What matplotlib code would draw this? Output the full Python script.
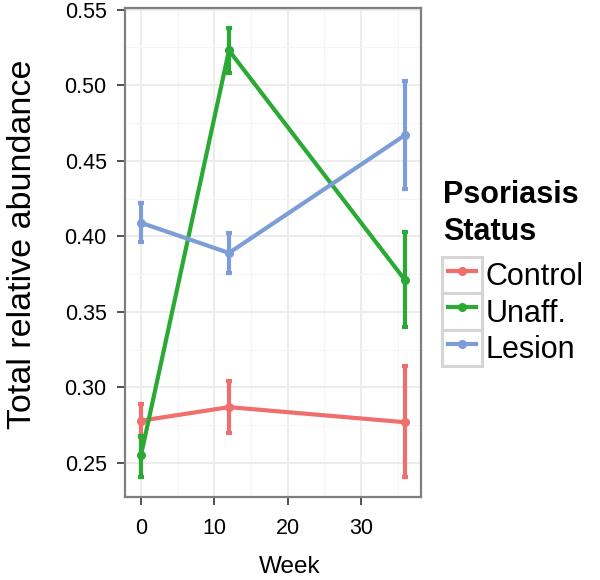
import matplotlib
matplotlib.use("Agg")
import matplotlib.pyplot as plt
from matplotlib.legend_handler import HandlerLine2D
from matplotlib.patches import Rectangle
from matplotlib.ticker import MultipleLocator, FormatStrFormatter

plt.rcParams['font.family'] = ['Liberation Sans', 'DejaVu Sans']

week = [0, 12, 36]
groups = ['Control', 'Unaff.', 'Lesion']
colors = ['#EE6F6B', '#2BA935', '#7C9DD6']
means = {
    'Control': [0.278, 0.287, 0.277],
    'Unaff.': [0.255, 0.523, 0.371],
    'Lesion': [0.409, 0.389, 0.467],
}
lower = {
    'Control': [0.267, 0.270, 0.241],
    'Unaff.': [0.241, 0.508, 0.340],
    'Lesion': [0.396, 0.376, 0.431],
}
upper = {
    'Control': [0.289, 0.304, 0.314],
    'Unaff.': [0.268, 0.538, 0.403],
    'Lesion': [0.422, 0.402, 0.503],
}


class BoxedHandler(HandlerLine2D):
    # ggplot-style legend key: grey framed box behind a slightly inset line
    def create_artists(self, legend, orig_handle, xdescent, ydescent,
                       width, height, fontsize, trans):
        inset = 4
        arts = super().create_artists(legend, orig_handle, xdescent - inset,
                                      ydescent, width - 2 * inset, height,
                                      fontsize, trans)
        box = Rectangle((-xdescent, -ydescent), width, height,
                        facecolor='white', edgecolor='#D6D6D6', lw=2.2,
                        transform=trans)
        return [box] + list(arts)


fig = plt.figure(figsize=(6, 5.8), dpi=100)
ax = fig.add_axes([0.208, 0.143, 0.494, 0.843])

handles = []
for g, c in zip(groups, colors):
    m = means[g]
    yerr = [[mm - lo for mm, lo in zip(m, lower[g])],
            [hi - mm for mm, hi in zip(m, upper[g])]]
    ax.errorbar(week, m, yerr=yerr, fmt='none', ecolor=c, elinewidth=3,
                capsize=2.5, capthick=3, zorder=3)
    ln, = ax.plot(week, m, '-o', color=c, lw=3, ms=5.5, zorder=4, label=g)
    handles.append(ln)

ax.set_xlim(-2.2, 38.2)
ax.set_ylim(0.2275, 0.551)
ax.xaxis.set_major_locator(MultipleLocator(10))
ax.xaxis.set_minor_locator(MultipleLocator(5))
ax.yaxis.set_major_locator(MultipleLocator(0.05))
ax.yaxis.set_minor_locator(MultipleLocator(0.025))
ax.yaxis.set_major_formatter(FormatStrFormatter('%.2f'))

ax.grid(which='major', color='#EBEBEB', lw=1.3)
ax.grid(which='minor', color='#F5F5F5', lw=0.8)
ax.set_axisbelow(True)
for s in ax.spines.values():
    s.set_color('#7F7F7F')
    s.set_linewidth(1.6)
ax.tick_params(which='major', direction='out', length=6, width=1.2,
               color='#333333', labelsize=15.5, labelcolor='black')
ax.tick_params(axis='x', pad=9)
ax.tick_params(axis='y', pad=7)
ax.tick_params(which='minor', length=0)

ax.set_xlabel('Week', fontsize=17.5)
ax.xaxis.set_label_coords(0.557, -0.121)
ax.set_ylabel('Total relative abundance', fontsize=24.5)
ax.yaxis.set_label_coords(-0.294, 0.517)

# legend title drawn separately so the gap to the keys can be set
fig.text(443 / 600, 1 - 180 / 580, 'Psoriasis\nStatus', fontsize=22,
         fontweight='bold', ha='left', va='top', linespacing=1.3)

leg = fig.legend(handles=handles, labels=groups,
                 loc='upper left', bbox_to_anchor=(442 / 600, 1 - 257 / 580),
                 frameon=False, fontsize=22, handlelength=1.3,
                 handleheight=1.45, labelspacing=0.0, handletextpad=0.13,
                 borderpad=0, borderaxespad=0,
                 handler_map={matplotlib.lines.Line2D: BoxedHandler()})

fig.savefig('out.png', dpi=100)
